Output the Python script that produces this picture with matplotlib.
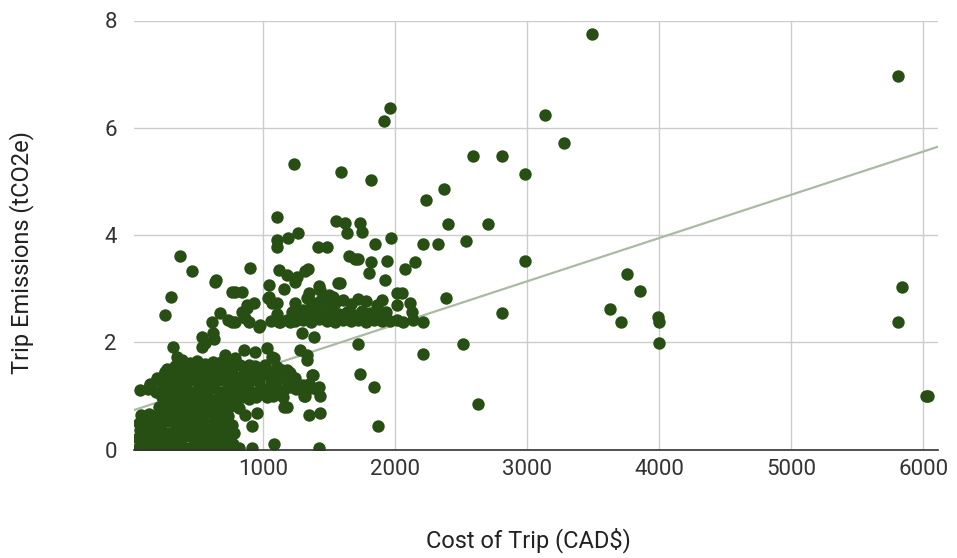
import numpy as np
import matplotlib.pyplot as plt

plt.rcParams['font.family'] = ['Roboto', 'DejaVu Sans']

# dense cluster of cheap, short trips (read row by row from the blob)
blob_cost = [
    55, 105, 160, 215, 270, 330, 385, 440, 500, 555, 610, 665, 720, 770,
    50, 100, 150, 205, 260, 315, 370, 425, 480, 535, 590, 645, 700, 750,
    65, 120, 175, 230, 285, 340, 395, 450, 505, 560, 615, 670, 725, 780,
    60, 115, 170, 225, 280, 335, 390, 445, 500, 555, 610, 665, 720, 760,
    75, 130, 185, 240, 295, 350, 405, 460, 515, 570, 625, 680, 735,
    205, 260, 315, 370, 425, 480, 535, 590, 645, 700, 755,
    230, 285, 340, 395, 450, 505, 560, 615, 670, 725, 780, 835, 890, 945,
    65, 125, 185, 240, 295, 350, 405, 460, 515, 570, 625, 680, 735, 790, 845, 900, 955, 1010,
    139, 190, 252,
    140, 195, 250, 305, 360, 415, 470, 525, 580, 635, 690, 745, 800, 855, 910, 965,
    250, 300, 355, 410, 465, 520, 575, 630, 685, 740, 795, 850, 905, 960, 1000,
    270, 330, 385, 440, 495, 550, 605, 660, 715, 770, 825, 880, 935, 990,
    380, 440, 500, 560, 620, 680, 760,
]
blob_emis = [
    0.05, 0.02, 0.08, 0.03, 0.06, 0.02, 0.07, 0.03, 0.05, 0.02, 0.08, 0.04, 0.03, 0.10,
    0.21, 0.18, 0.24, 0.20, 0.16, 0.22, 0.19, 0.25, 0.17, 0.23, 0.20, 0.26, 0.18, 0.22,
    0.36, 0.33, 0.38, 0.34, 0.31, 0.37, 0.33, 0.39, 0.35, 0.32, 0.38, 0.34, 0.36, 0.31,
    0.50, 0.47, 0.52, 0.49, 0.53, 0.46, 0.51, 0.48, 0.54, 0.50, 0.47, 0.52, 0.49, 0.46,
    0.64, 0.66, 0.62, 0.68, 0.63, 0.67, 0.61, 0.66, 0.63, 0.69, 0.64, 0.67, 0.62,
    0.79, 0.82, 0.77, 0.81, 0.78, 0.84, 0.80, 0.76, 0.83, 0.79, 0.82,
    0.98, 0.93, 0.97, 0.95, 0.99, 0.94, 0.96, 0.92, 0.98, 0.95, 0.93, 0.97, 0.94, 0.98,
    1.11, 1.13, 1.08, 1.12, 1.09, 1.14, 1.10, 1.07, 1.13, 1.10, 1.15, 1.08, 1.12, 1.09, 1.13, 1.10, 1.07, 1.12,
    1.20, 1.33, 1.45,
    1.22, 1.30, 1.26, 1.23, 1.28, 1.24, 1.30, 1.22, 1.27, 1.25, 1.29, 1.23, 1.27, 1.24, 1.30, 1.26,
    1.45, 1.38, 1.42, 1.39, 1.44, 1.37, 1.41, 1.38, 1.43, 1.40, 1.36, 1.42, 1.39, 1.44, 1.40,
    1.51, 1.56, 1.53, 1.58, 1.52, 1.57, 1.54, 1.50, 1.56, 1.53, 1.58, 1.52, 1.55, 1.50,
    1.66, 1.62, 1.65, 1.60, 1.64, 1.63, 1.62,
]

# band of trips between 1000 and 1450 CAD
band_cost = [1045, 1095, 1150, 1200, 1250, 1300, 1350, 1400, 1060, 1120, 1180, 1240,
             1064, 1140, 1190, 1266, 1342, 1367, 1405, 1430, 1304, 1152, 1342, 1430,
             1077, 1102, 1178, 1203, 1329, 1379, 1316, 1178, 1030, 1075, 1150]
band_emis = [1.12, 1.18, 1.10, 1.16, 1.13, 1.20, 1.15, 1.12, 1.30, 1.35, 1.28, 1.33,
             1.45, 1.48, 1.45, 1.20, 1.23, 1.39, 1.14, 0.99, 0.99, 0.80, 0.64, 0.68,
             1.70, 1.54, 1.48, 1.42, 1.67, 1.39, 0.99, 0.80, 0.98, 1.00, 0.97]

# scattered low-emission trips
low_cost = [811, 862, 950, 748, 912, 1077, 811, 912, 1420, 1420, 1720, 1732, 1840,
            1866, 2627, 2206, 2514]
low_emis = [0.77, 0.64, 0.68, 0.46, 0.43, 0.10, 0.02, 0.02, 0.02, 1.17, 1.96, 1.40, 1.17,
            0.44, 0.84, 1.79, 1.97]

# middle group (about 1.7 to 3.2 tCO2e)
mid_cost = [300, 250, 632, 758, 670, 607, 758, 531, 531, 619, 624, 316, 341, 707,
            875, 925, 862, 976, 1038, 1102, 1127, 1203, 1228, 1303, 1329, 1430, 1530,
            560, 787, 837, 874, 836, 735, 786, 887, 963, 849, 938, 1026, 1064, 786,
            887, 1014, 1279, 1329, 1291, 1380, 1241, 1266, 1215, 1329, 1418, 1468,
            1544, 1064, 1039, 1152, 1241, 1342, 1418, 1494, 1039, 1581]
mid_emis = [2.85, 2.51, 3.13, 2.93, 2.54, 2.38, 2.38, 2.10, 1.92, 2.17, 2.06, 1.92, 1.73, 1.76,
            2.63, 2.73, 2.45, 2.32, 2.82, 2.73, 2.38, 2.38, 2.54, 2.60, 2.82, 2.76, 2.85,
            1.98, 2.94, 2.94, 2.70, 2.57, 2.42, 2.38, 2.38, 2.29, 1.86, 1.82, 1.89, 1.73, 1.70,
            1.58, 1.58, 1.86, 1.76, 2.17, 2.10, 2.73, 2.57, 2.57, 2.54, 2.60, 2.73,
            2.73, 2.73, 3.07, 2.99, 3.13, 2.91, 3.04, 2.88, 2.85, 3.10]

# dense row around 2.4-2.9 tCO2e
row_cost = [1060, 1120, 1180, 1240, 1300, 1360, 1420, 1480, 1540, 1600, 1660, 1720,
            1780, 1840, 1900, 1960, 2009, 2060, 2136, 2211,
            1100, 1390, 1450, 1510, 1570, 1630, 1690, 1750, 1810, 1870, 1930, 2009, 2123,
            1360, 1600, 1660, 1720, 1780, 1858, 1896, 2009, 2047, 2110]
row_emis = [2.40, 2.38, 2.42, 2.39, 2.41, 2.38, 2.43, 2.40, 2.38, 2.42, 2.39, 2.41,
            2.38, 2.42, 2.40, 2.39, 2.42, 2.38, 2.42, 2.38,
            2.52, 2.57, 2.50, 2.58, 2.53, 2.56, 2.51, 2.58, 2.54, 2.50, 2.57, 2.70, 2.57,
            2.75, 2.78, 2.72, 2.80, 2.76, 2.70, 2.79, 2.91, 2.91, 2.73]

# upper scattered trips
high_cost = [371, 459, 895, 643, 1102, 1261, 1185, 1102, 1102, 1228, 1417, 1480,
             1114, 1178, 1253, 1316, 1341, 1430, 1568,
             1586, 1815, 2370, 2229, 1550, 1619, 1632, 1732, 1745, 2400, 2700, 1969,
             1846, 2206, 2325, 2532, 1649, 1694, 1720, 1815, 1934, 2148, 2073, 1803,
             1921, 2383, 2589, 1910, 1956]
high_emis = [3.60, 3.33, 3.39, 3.16, 4.34, 4.03, 3.94, 3.90, 3.78, 5.33, 3.78, 3.78,
             3.35, 3.26, 3.22, 3.32, 3.36, 2.98, 3.10,
             5.18, 5.02, 4.85, 4.65, 4.26, 4.22, 4.04, 4.22, 4.06, 4.21, 4.21, 3.95,
             3.83, 3.83, 3.83, 3.89, 3.60, 3.55, 3.55, 3.50, 3.52, 3.49, 3.36, 3.29,
             3.16, 2.82, 5.48, 6.13, 6.37]

# expensive trips
far_cost = [3490, 5810, 3135, 3275, 2810, 2980, 2985, 3755, 3855, 3625, 2810, 3710,
            3988, 3998, 3996, 5840, 5810, 6025, 6035]
far_emis = [7.75, 6.97, 6.24, 5.71, 5.48, 5.13, 3.52, 3.27, 2.96, 2.62, 2.54, 2.38,
            2.48, 2.38, 1.99, 3.03, 2.38, 1.00, 1.00]

# linear trendline as shown on the chart
trend_intercept = 0.72
trend_slope = 0.000806

cost = blob_cost + band_cost + low_cost + mid_cost + row_cost + high_cost + far_cost
emissions = blob_emis + band_emis + low_emis + mid_emis + row_emis + high_emis + far_emis

fig = plt.figure(figsize=(9.57, 5.58), dpi=100)
ax = fig.add_axes([133.5 / 957, 1 - 449.5 / 558, 804.2 / 957, 429 / 558])

ax.set_xlim(15, 6110)
ax.set_ylim(0, 8)
ax.set_xticks([1000, 2000, 3000, 4000, 5000, 6000])
ax.set_yticks([0, 2, 4, 6, 8])

ax.grid(True, color='#cccccc', linewidth=1)
ax.set_axisbelow(True)
for side in ['top', 'right', 'left']:
    ax.spines[side].set_visible(False)
ax.spines['bottom'].set_color('#333333')
ax.spines['bottom'].set_linewidth(1.2)
ax.spines['bottom'].set_zorder(4)

ax.tick_params(length=0, labelsize=16, colors='#333333')
ax.tick_params(axis='y', pad=12)
ax.tick_params(axis='x', pad=7)

tx = np.array(ax.get_xlim())
ax.plot(tx, trend_intercept + trend_slope * tx, color='#a9bba2', linewidth=1.6, zorder=2)

ax.scatter(cost, emissions, s=80, color='#274e13', linewidths=0, zorder=3)

fig.text(22 / 957, 1 - 252 / 558, 'Trip Emissions (tCO2e)', rotation=90,
         ha='center', va='center', fontsize=17, color='#222222')
fig.text(528 / 957, 1 - 540 / 558, 'Cost of Trip (CAD$)',
         ha='center', va='center', fontsize=17, color='#222222')

fig.savefig('out.png', dpi=100)
